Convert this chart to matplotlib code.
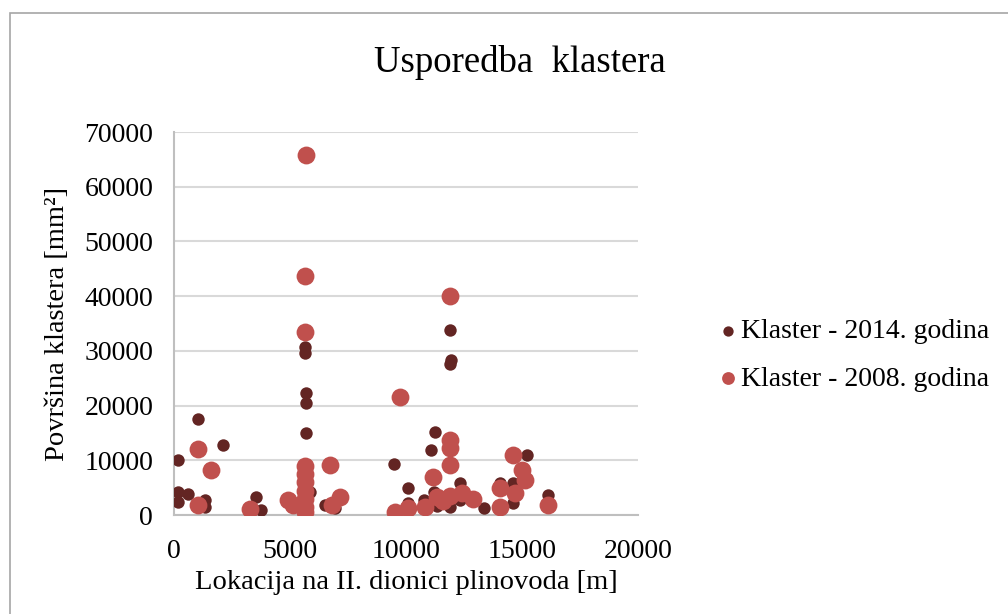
import matplotlib.pyplot as plt
from matplotlib.patches import Rectangle

plt.rcParams['font.family'] = ['Liberation Serif', 'DejaVu Serif']

# Klaster - 2014. godina
x_2014 = [160, 160, 620, 160, 1050, 2125, 1340, 1340, 3520, 3750,
          5650, 5650, 5680, 5680, 5680, 5700, 5850, 5700, 6500, 6940,
          9480, 10090, 10100, 10780, 11060, 11250, 11200, 11350, 11900, 11900,
          11950, 11900, 12330, 12330, 13380, 14050, 14630, 14630, 15200, 16140]
y_2014 = [10050, 4250, 3950, 2430, 17500, 12900, 2740, 1500, 3350, 900,
          30770, 29550, 22240, 20420, 14930, 5790, 4260, 2500, 1830, 1280,
          9400, 4930, 2130, 2740, 11880, 15230, 4300, 1600, 33800, 27700,
          28300, 1520, 5900, 2740, 1220, 5790, 5790, 2130, 10970, 3650]

# Klaster - 2008. godina
x_2008 = [1050, 1580, 1050, 3280, 5690, 5650, 5650, 5650, 5650, 5650,
          5650, 5650, 5650, 5650, 6720, 4930, 5140, 7150, 6800, 9740,
          9525, 10090, 10820, 11180, 11320, 11600, 11900, 11900, 11900, 11900,
          11900, 12400, 12880, 14050, 14050, 14630, 14990, 15130, 14700, 16140]
y_2008 = [12000, 8230, 1830, 1040, 65800, 43740, 33400, 8900, 7500, 6000,
          4500, 3000, 1500, 500, 9140, 2740, 1830, 3350, 1830, 21620,
          550, 1280, 1520, 7010, 3350, 2600, 40000, 13710, 12190, 9140,
          3500, 3960, 2860, 4870, 1520, 10970, 8230, 6400, 3960, 1830]

x_ticks = [0, 5000, 10000, 15000, 20000]
y_ticks = [0, 10000, 20000, 30000, 40000, 50000, 60000, 70000]

fig = plt.figure(figsize=(10.08, 6.14), dpi=100)
ax = fig.add_axes([0.1726, 0.161, 0.4603, 0.624])

ax.scatter(x_2014, y_2014, s=80, color='#632523', label='Klaster - 2014. godina',
           zorder=3, linewidths=0)
ax.scatter(x_2008, y_2008, s=165, color='#C0504D', label='Klaster - 2008. godina',
           zorder=4, linewidths=0)

ax.set_xlim(0, 20000)
ax.set_ylim(0, 70000)
ax.set_xticks(x_ticks)
ax.set_yticks(y_ticks)
ax.tick_params(length=0, labelsize=20)
ax.tick_params(axis='x', pad=17)
ax.tick_params(axis='y', pad=15)
ax.yaxis.grid(True, color='#D9D9D9', linewidth=1.5)
ax.set_axisbelow(True)
for s in ['top', 'right']:
    ax.spines[s].set_visible(False)
for s in ['left', 'bottom']:
    ax.spines[s].set_color('#BFBFBF')
    ax.spines[s].set_linewidth(1.5)

ax.set_xlabel('Lokacija na II. dionici plinovoda [m]', fontsize=20.5)
ax.set_ylabel('Površina klastera [mm²]', fontsize=20.5)
ax.xaxis.label.set_va('center')
ax.yaxis.label.set_va('center')
ax.xaxis.set_label_coords(0.5, -0.175)
ax.yaxis.set_label_coords(-0.252, 0.5)
fig.text(0.5155, 0.899, 'Usporedba  klastera', fontsize=26.5, ha='center', va='center')

leg = fig.legend(loc='center left', bbox_to_anchor=(720 / 1008, 1 - 355 / 614),
                 frameon=False, fontsize=20, handlelength=0.6, handletextpad=0.15,
                 labelspacing=0.8, borderpad=0, borderaxespad=0)
leg.legend_handles[0].set_sizes([55])
leg.legend_handles[1].set_sizes([85])

fig.patches.append(Rectangle((10 / 1008, -0.1), 1.1, 0.1 + 1 - 13 / 614,
                             transform=fig.transFigure, fill=False,
                             edgecolor='#A6A6A6', linewidth=1.2))

plt.savefig('out.png', dpi=100)
